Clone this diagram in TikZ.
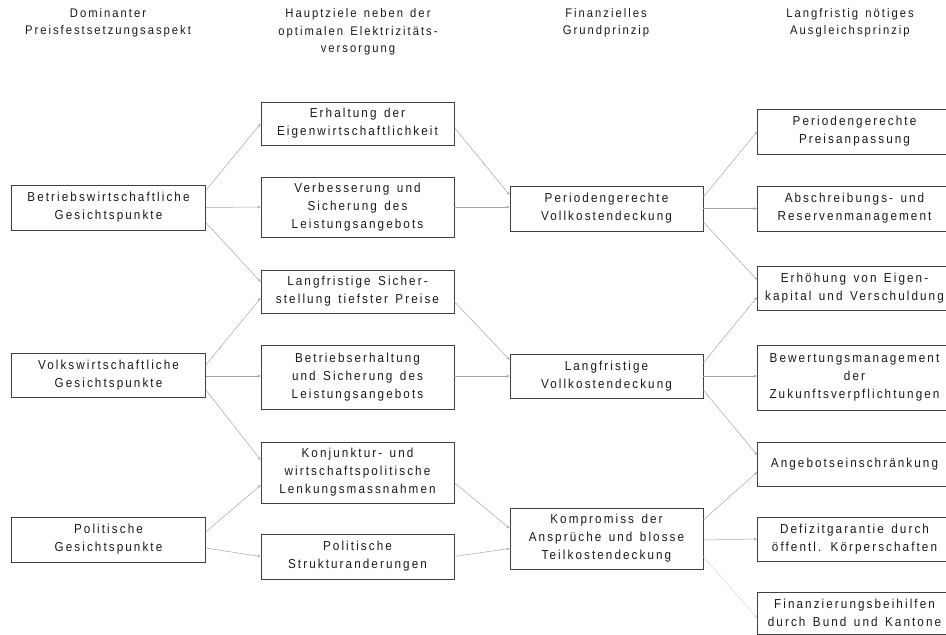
\documentclass[tikz,border=0pt]{standalone}
\usepackage{fontspec}
\setmainfont{Liberation Sans}[FakeStretch=0.9, LetterSpace=16, WordSpace=1.4]
\usetikzlibrary{arrows.meta,calc}
\begin{document}
\begin{tikzpicture}[x=1pt,y=-1pt,
  box/.style={draw=black!75, line width=0.6pt, align=center, inner sep=0pt,
    font=\fontsize{13}{18}\selectfont, text=black!90},
  c1/.style={box, minimum width=194pt},
  c2/.style={box, minimum width=193pt},
  c4/.style={box, minimum width=194pt},
  head/.style={align=center, font=\fontsize{12.5}{17.5}\selectfont, text=black!90},
  link/.style={draw=black!35, line width=0.5pt, -{Stealth[length=3.5pt,width=2.5pt]}},
  faint/.style={link, draw=black!15}]
\useasboundingbox (0,0) rectangle (946,635);
\clip (0,0) rectangle (946,635);
% headers
\node[head] (h1) at (108,23) {Dominanter\\Preisfestsetzungsaspekt};
\node[head] (h2) at (358,32) {Hauptziele neben der\\optimalen Elektrizitäts-\\versorgung};
\node[head] (h3) at (606,23) {Finanzielles\\Grundprinzip};
\node[head] (h4) at (850,23) {Langfristig nötiges\\Ausgleichsprinzip};
% column 1
\node[c1, minimum height=45pt] (b1) at (108.5,207.5) {Betriebswirtschaftliche\\Gesichtspunkte};
\node[c1, minimum height=44pt] (b2) at (108.5,375) {Volkswirtschaftliche\\Gesichtspunkte};
\node[c1, minimum height=45pt] (b3) at (108.5,539.5) {Politische\\Gesichtspunkte};
% column 2
\node[c2, minimum height=43pt] (e1) at (357.5,123.5) {Erhaltung der\\Eigenwirtschaftlichkeit};
\node[c2, minimum height=60pt] (e2) at (357.5,207) {Verbesserung und\\Sicherung des\\Leistungsangebots};
\node[c2, minimum height=43pt] (e3) at (357.5,291.5) {Langfristige Sicher-\\stellung tiefster Preise};
\node[c2, minimum height=64pt] (e4) at (357.5,377) {Betriebserhaltung\\und Sicherung des\\Leistungsangebots};
\node[c2, minimum height=61pt] (e5) at (357.5,472.5) {Konjunktur- und\\wirtschaftspolitische\\Lenkungsmassnahmen};
\node[c2, minimum height=45pt] (e6) at (357.5,556.5) {Politische\\Strukturanderungen};
% column 3
\node[c2, minimum height=45pt] (f1) at (606.5,208.5) {Periodengerechte\\Vollkostendeckung};
\node[c2, minimum height=44pt] (f2) at (606.5,376) {Langfristige\\Vollkostendeckung};
\node[c2, minimum height=61pt] (f3) at (606.5,538.5) {Kompromiss der\\Ansprüche und blosse\\Teilkostendeckung};
% column 4 (boxes run past the right edge)
\node[c4, minimum height=45pt] (g1) at (854.5,131.5) {Periodengerechte\\Preisanpassung};
\node[c4, minimum height=45pt] (g2) at (854.5,208.5) {Abschreibungs- und\\Reservenmanagement};
\node[c4, minimum height=44pt] (g3) at (854.5,288) {Erhöhung von Eigen-\\kapital und Verschuldung};
\node[c4, minimum height=65pt] (g4) at (854.5,377.5) {Bewertungsmanagement\\der\\Zukunftsverpflichtungen};
\node[c4, minimum height=44pt] (g5) at (854.5,464) {Angebotseinschränkung};
\node[c4, minimum height=44pt] (g6) at (854.5,539) {Defizitgarantie durch\\öffentl. Körperschaften};
\node[c4, minimum height=42pt] (g7) at (854.5,613) {Finanzierungsbeihilfen\\durch Bund und Kantone};
% connectors col1 -> col2
\draw[link] ($(b1.east)+(0,-17)$) -- (e1.west);
\draw[link] (b1.east) -- (e2.west);
\draw[link] ($(b1.east)+(0,15)$) -- ($(e3.west)+(0,-9.5)$);
\draw[link] ($(b2.east)+(0,-10)$) -- ($(e3.west)+(0,6.5)$);
\draw[link] ($(b2.east)+(0,1)$) -- ($(e4.west)+(0,-1)$);
\draw[link] ($(b2.east)+(0,15)$) -- ($(e5.west)+(0,-12.5)$);
\draw[link] ($(b3.east)+(0,-7.5)$) -- ($(e5.west)+(0,12.5)$);
\draw[link] ($(b3.east)+(0,8.5)$) -- (e6.west);
% col2 -> col3
\draw[link] ($(e1.east)+(0,4)$) -- ($(f1.west)+(0,-13.5)$);
\draw[link] (e2.east) -- ($(f1.west)+(0,-1.5)$);
\draw[link] ($(e3.east)+(0,10)$) -- ($(f2.west)+(0,-16)$);
\draw[link] ($(e4.east)+(0,-1)$) -- (f2.west);
\draw[link] ($(e5.east)+(0,10)$) -- ($(f3.west)+(0,-10)$);
\draw[link] (e6.east) -- ($(f3.west)+(0,10)$);
% col3 -> col4
\draw[link] ($(f1.east)+(0,-11.5)$) -- (g1.west);
\draw[link] (f1.east) -- (g2.west);
\draw[link] ($(f1.east)+(0,13.5)$) -- ($(g3.west)+(0,-8)$);
\draw[link] ($(f2.east)+(0,-13)$) -- ($(g3.west)+(0,9)$);
\draw[link] (f2.east) -- ($(g4.west)+(0,-1.5)$);
\draw[link] ($(f2.east)+(0,14)$) -- ($(g5.west)+(0,-9)$);
\draw[link] ($(f3.east)+(0,-18.5)$) -- ($(g5.west)+(0,8)$);
\draw[link] ($(f3.east)+(0,1.5)$) -- (g6.west);
\draw[faint] ($(f3.east)+(0,18)$) -- ($(g7.west)+(0,5)$);
\end{tikzpicture}
\end{document}
